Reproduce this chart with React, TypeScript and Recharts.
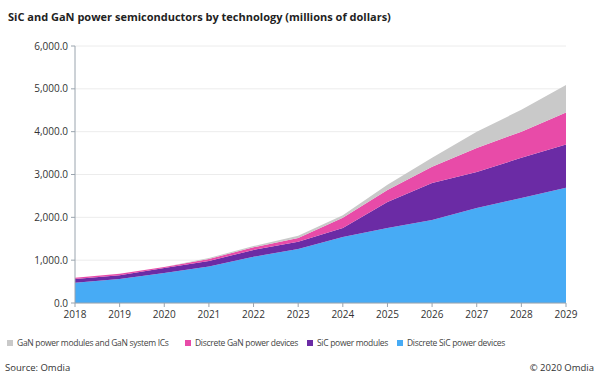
import { AreaChart, Area, XAxis, YAxis, CartesianGrid } from 'recharts';

const years = ['2018', '2019', '2020', '2021', '2022', '2023', '2024', '2025', '2026', '2027', '2028', '2029'];
const discreteSic = [470, 560, 700, 850, 1080, 1260, 1540, 1750, 1940, 2220, 2450, 2690];
const sicModules = [90, 90, 120, 130, 160, 170, 210, 610, 860, 840, 940, 1010];
const discreteGan = [30, 30, 20, 50, 60, 90, 240, 280, 380, 560, 610, 750];
const ganModules = [0, 0, 0, 20, 30, 50, 60, 120, 210, 380, 510, 640];
const yTicks = [0, 1000, 2000, 3000, 4000, 5000, 6000];

const series = [
    { key: 'ganModules', name: 'GaN power modules and GaN system ICs', color: '#c9c9c9', x: 7 },
    { key: 'discreteGan', name: 'Discrete GaN power devices', color: '#e84ba8', x: 185 },
    { key: 'sicModules', name: 'SiC power modules', color: '#6b2ba5', x: 307 },
    { key: 'discreteSic', name: 'Discrete SiC power devices', color: '#47abf5', x: 397 },
];

const data = years.map((year, i) => ({
    year,
    discreteSic: discreteSic[i],
    sicModules: sicModules[i],
    discreteGan: discreteGan[i],
    ganModules: ganModules[i],
}));

const font = "'Open Sans', 'Noto Sans', sans-serif";
const axisColor = '#9aa4ae';

export default function App() {
    const stackOrder = [...series].reverse();
    return (
        <div style={{ position: 'absolute', left: 0, top: 0, width: 600, height: 380, background: '#fff', fontFamily: font, color: '#333' }}>
            <div style={{ position: 'absolute', left: 8, top: 9, fontSize: 11, fontWeight: 700, color: '#222' }}>
                SiC and GaN power semiconductors by technology (millions of dollars)
            </div>
            <div style={{ position: 'absolute', left: 0, top: 0 }}>
                <AreaChart width={600} height={330} data={data} margin={{ top: 46, right: 34, left: 0, bottom: 0 }}>
                    <CartesianGrid vertical={false} stroke="#ececec" />
                    <XAxis
                        dataKey="year"
                        height={27}
                        stroke={axisColor}
                        tick={{ fill: '#333', fontSize: 10, fontFamily: font }}
                        tickSize={4}
                        tickMargin={4}
                    />
                    <YAxis
                        width={75}
                        domain={[0, 6000]}
                        ticks={yTicks}
                        stroke={axisColor}
                        tick={{ fill: '#333', fontSize: 10, fontFamily: font }}
                        tickSize={4}
                        tickMargin={3}
                        tickFormatter={(v: number) => v.toLocaleString('en-US', { minimumFractionDigits: 1, maximumFractionDigits: 1 })}
                    />
                    {stackOrder.map(s => (
                        <Area
                            key={s.key}
                            type="linear"
                            dataKey={s.key}
                            name={s.name}
                            stackId="a"
                            stroke="none"
                            fill={s.color}
                            fillOpacity={1}
                            isAnimationActive={false}
                        />
                    ))}
                </AreaChart>
            </div>
            {series.map(s => (
                <div
                    key={s.key}
                    style={{ position: 'absolute', left: s.x, top: 337, display: 'flex', alignItems: 'center', whiteSpace: 'nowrap', fontSize: 8.5, letterSpacing: -0.3, color: '#444' }}
                >
                    <span style={{ width: 6, height: 6, background: s.color, display: 'inline-block', marginRight: 4 }} />
                    {s.name}
                </div>
            ))}
            <div style={{ position: 'absolute', left: 5, top: 361, fontSize: 9.5, color: '#333' }}>Source: Omdia</div>
            <div style={{ position: 'absolute', right: 6, top: 361, fontSize: 9.5, color: '#333' }}>© 2020 Omdia</div>
        </div>
    );
}
